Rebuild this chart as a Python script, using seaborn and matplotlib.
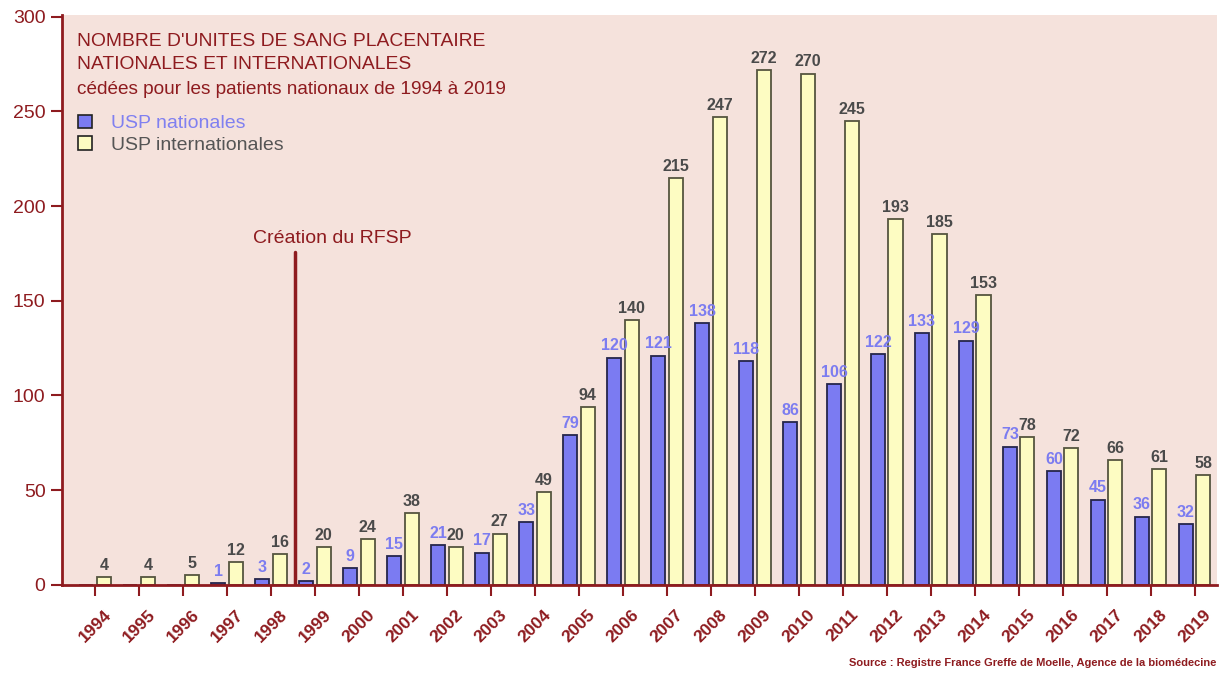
import matplotlib
matplotlib.use("Agg")
import matplotlib.pyplot as plt
import pandas as pd
import seaborn as sns
from matplotlib.patches import Patch

years = list(range(1994, 2020))
usp_nationales = [0, 0, 0, 1, 3, 2, 9, 15, 21, 17, 33, 79, 120, 121, 138, 118,
                  86, 106, 122, 133, 129, 73, 60, 45, 36, 32]
usp_internationales = [4, 4, 5, 12, 16, 20, 24, 38, 20, 27, 49, 94, 140, 215, 247,
                       272, 270, 245, 193, 185, 153, 78, 72, 66, 61, 58]
series_names = ["USP nationales", "USP internationales"]

red = "#8e1b1f"
pink = "#f5e2dc"
blue = "#7b7bf2"
yellow = "#fdfcc2"

df = pd.DataFrame({
    "year": [str(y) for y in years] * 2,
    "value": usp_nationales + usp_internationales,
    "serie": [series_names[0]] * len(years) + [series_names[1]] * len(years),
})

sns.set_style("white")
plt.rcParams["font.family"] = ["Liberation Sans", "DejaVu Sans"]

fig, ax = plt.subplots(figsize=(12.19, 6.76), dpi=100)
fig.subplots_adjust(left=0.051, right=0.998, bottom=0.135, top=0.978)
ax.set_facecolor(pink)

sns.barplot(data=df, x="year", y="value", hue="serie", hue_order=series_names,
            palette=[blue, yellow], width=0.8, gap=0.2, ax=ax, legend=False,
            saturation=1)

edges = ["#25254a", "#55553f"]
for cont, ec in zip(ax.containers, edges):
    for p in cont:
        p.set_edgecolor(ec)
        p.set_linewidth(1.3)

# value labels
nat_labels = [str(v) if v > 0 else "" for v in usp_nationales]
int_labels = [str(v) for v in usp_internationales]
ax.bar_label(ax.containers[0], labels=nat_labels, padding=3, color="#7c7cf0",
             fontsize=11.5, fontweight="bold")
ax.bar_label(ax.containers[1], labels=int_labels, padding=3, color="#4a4a4a",
             fontsize=11.5, fontweight="bold")

ax.set_xlim(-0.75, 25.5)
ax.set_ylim(0, 301)
ax.set_yticks(range(0, 301, 50))
ax.set_xlabel("")
ax.set_ylabel("")

for side in ["top", "right"]:
    ax.spines[side].set_visible(False)
for side in ["left", "bottom"]:
    ax.spines[side].set_color(red)
    ax.spines[side].set_linewidth(2)

ax.tick_params(axis="y", length=8, width=1.5, color=red, labelcolor=red,
               labelsize=14, left=True, pad=4)
ax.tick_params(axis="x", length=8, width=1.5, color=red, labelcolor=red,
               labelsize=12.5, bottom=True, pad=8)
for lab in ax.get_xticklabels():
    lab.set_rotation(45)
    lab.set_fontweight("bold")
    lab.set_ha("center")

# RFSP creation line
ax.plot([4.55, 4.55], [0, 176], color=red, linewidth=2.5)
ax.text(5.4, 183, "Création du RFSP", color=red, fontsize=14, ha="center",
        va="center")

# title block
ax.text(0.013, 0.954, "NOMBRE D'UNITES DE SANG PLACENTAIRE", transform=ax.transAxes,
        color=red, fontsize=13.9, va="center")
ax.text(0.013, 0.913, "NATIONALES ET INTERNATIONALES", transform=ax.transAxes,
        color=red, fontsize=13.9, va="center")
ax.text(0.013, 0.869, "cédées pour les patients nationaux de 1994 à 2019",
        transform=ax.transAxes, color=red, fontsize=13.7, va="center")

handles = [Patch(facecolor=blue, edgecolor="#222222", linewidth=1.2),
           Patch(facecolor=yellow, edgecolor="#222222", linewidth=1.2)]
leg = ax.legend(handles, series_names, loc="upper left",
                bbox_to_anchor=(0.014, 0.825), frameon=False, fontsize=14,
                handlelength=0.7, handleheight=0.7, handletextpad=1.0,
                borderpad=0, borderaxespad=0, labelspacing=0.2,
                labelcolor=["#8080f0", "#555555"])

fig.text(0.998, 0.012, "Source : Registre France Greffe de Moelle, Agence de la biomédecine",
         color=red, fontsize=8, fontweight="bold", ha="right", va="bottom")

fig.savefig("out.png", dpi=100, facecolor="white")
